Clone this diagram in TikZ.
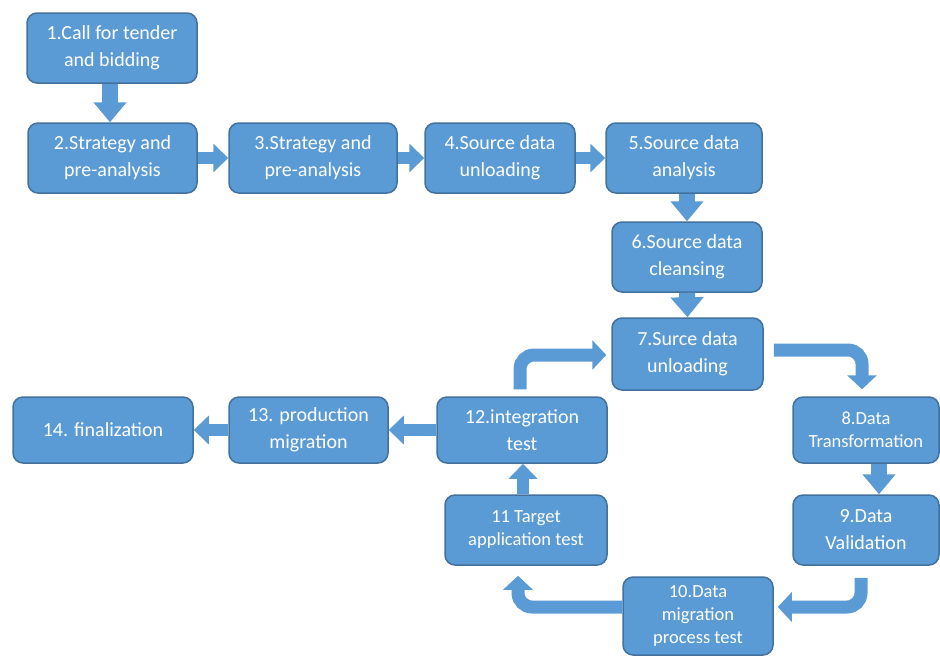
\documentclass[tikz,border=0pt]{standalone}
\usepackage{fontspec}
\setmainfont{Carlito}
\usetikzlibrary{arrows.meta}
\definecolor{boxblue}{HTML}{5B9BD5}
\definecolor{boxedge}{HTML}{41719C}
\begin{document}
\begin{tikzpicture}[x=1pt,y=-1pt,
  stage/.style={rectangle,rounded corners=10pt,draw=boxedge,line width=1.5pt,
    fill=boxblue,text=white,align=center,inner sep=2pt,
    font=\fontsize{20}{27}\selectfont},
  smallstage/.style={stage,font=\fontsize{18.5}{23}\selectfont},
  bigarrow/.style={draw=boxblue,line width=16pt,-{Triangle[length=20pt,width=32pt]}},
  flatarrow/.style={draw=boxblue,line width=12pt,-{Triangle[length=15pt,width=28pt]}},
  bentarrow/.style={draw=boxblue,line width=13pt,rounded corners=14pt,
    -{Triangle[length=14pt,width=29pt]}}]
\useasboundingbox (0,0) rectangle (940,657);

% top row
\path (112,48) node[stage,minimum width=170pt,minimum height=70pt] (b1) {1.Call for tender\\and bidding};
\path (112.5,158) node[stage,minimum width=169pt,minimum height=70pt] (b2) {2.Strategy and\\pre-analysis};
\path (313,158) node[stage,minimum width=168pt,minimum height=70pt] (b3) {3.Strategy and\\pre-analysis};
\path (500,158) node[stage,minimum width=150pt,minimum height=70pt] (b4) {4.Source data\\unloading};
\path (684,158) node[stage,minimum width=156pt,minimum height=70pt] (b5) {5.Source data\\analysis};

% right column
\path (687,257) node[stage,minimum width=150pt,minimum height=70pt] (b6) {6.Source data\\cleansing};
\path (687.5,354) node[stage,minimum width=151pt,minimum height=72pt] (b7) {7.Surce data\\unloading};
\path (866,430) node[smallstage,minimum width=146pt,minimum height=66pt] (b8) {8.Data\\Transformation};
\path (866,530) node[stage,minimum width=146pt,minimum height=70pt] (b9) {9.Data\\Validation};
\path (698,616) node[smallstage,minimum width=150pt,minimum height=78pt] (b10) {10.Data\\migration\\process test};

% loop back and bottom row
\path (526,530) node[smallstage,minimum width=162pt,minimum height=70pt] (b11) {11 Target\\application test};
\path (522,430) node[stage,minimum width=170pt,minimum height=66pt] (b12) {12.integration\\test};
\path (308.5,430) node[stage,minimum width=159pt,minimum height=66pt] (b13) {13. production\\migration};
\path (103,430) node[stage,minimum width=180pt,minimum height=66pt] (b14) {14. finalization};

% connectors
\draw[bigarrow] ([xshift=-2pt]b1.south) -- ([xshift=-2pt]b1.south |- b2.north);
\draw[flatarrow] (b2.east) -- (b3.west);
\draw[flatarrow] (b3.east) -- (b4.west);
\draw[flatarrow] (b4.east) -- (b5.west);
\draw[bigarrow] (b6.north |- b5.south) -- (b6.north);
\draw[bigarrow] (b6.south) -- (b7.north);
\draw[bentarrow] ([xshift=10pt,yshift=4pt]b7.east) -| ([xshift=-4pt,yshift=7pt]b8.north);
\draw[bigarrow] ([xshift=13pt]b8.south) -- ([xshift=13pt]b9.north);
\draw[bentarrow] ([xshift=-5pt,yshift=-12pt]b9.south) |- ([xshift=4pt,yshift=9pt]b10.east);
\draw[bentarrow] ([yshift=9pt]b10.west) -| ([xshift=-8pt,yshift=-10pt]b11.south);
\draw[flatarrow] ([xshift=-3pt]b11.north) -- ([xshift=1pt]b12.south);
\draw[bentarrow] ([xshift=-2pt,yshift=7pt]b12.north) |- ([xshift=-5pt,yshift=-1pt]b7.west);
\draw[flatarrow] (b12.west) -- (b13.east);
\draw[flatarrow] (b13.west) -- (b14.east);
\end{tikzpicture}
\end{document}
